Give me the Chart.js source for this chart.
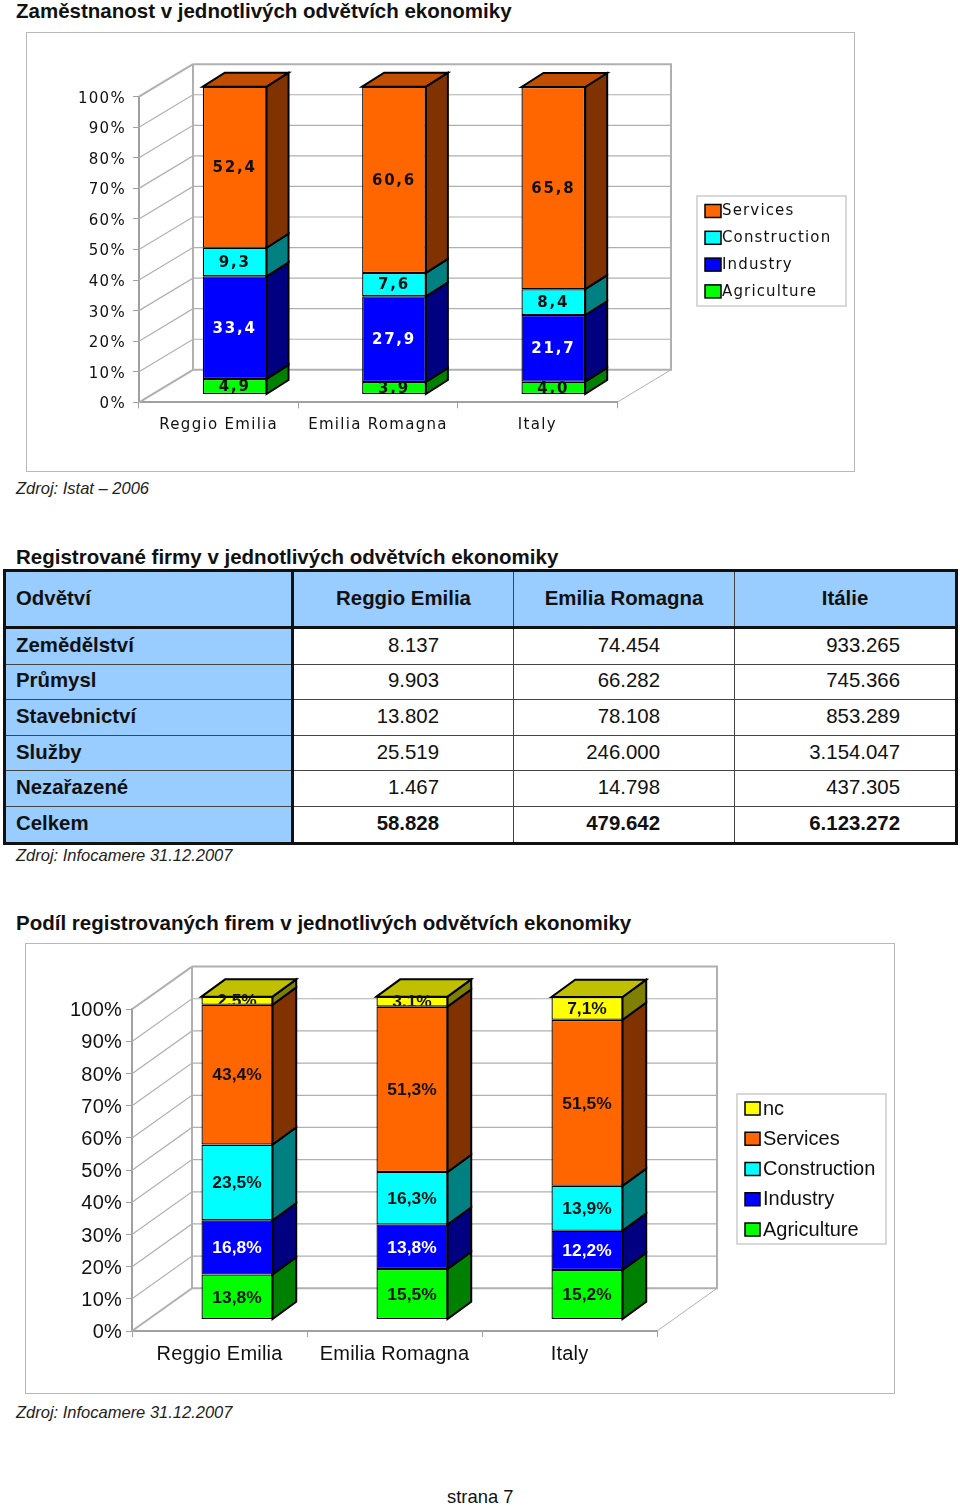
<!DOCTYPE html>
<html lang="cs">
<head>
<meta charset="utf-8">
<title>Zaměstnanost a firmy</title>
<script src="https://cdn.jsdelivr.net/npm/chart.js@4"></script>
<style>
  html, body { margin: 0; padding: 0; background: #fff; }
  body { position: relative; width: 960px; height: 1507px; overflow: hidden; font-family: "Liberation Sans", Arial, sans-serif; color: #111; }
  .title { position: absolute; left: 16px; font-size: 20.5px; font-weight: bold; line-height: 24px; white-space: nowrap; }
  .source { position: absolute; left: 16px; font-size: 16.5px; font-style: italic; line-height: 20px; white-space: nowrap; color: #222; }
  canvas { position: absolute; outline: 1.5px solid #b8b8b8; }
  #firms { position: absolute; left: 3px; top: 569px; width: 952px; border-collapse: collapse; table-layout: fixed; font-size: 20.4px; border: 3.5px solid #111; }
  #firms th, #firms td { padding: 0 0 2px; border: 1.5px solid #444; height: 32.6px; font-weight: normal; }
  #firms thead th { background: #99ccff; height: 52px; font-weight: bold; text-align: center; border-bottom: 3.5px solid #111; }
  #firms thead th:first-child, #firms tbody th { background: #99ccff; font-weight: bold; text-align: left; padding-left: 10px; border-right: 3.5px solid #111; }
  #firms td { text-align: right; }
  #firms td:nth-child(2) { padding-right: 74px; }
  #firms td:nth-child(3) { padding-right: 74px; }
  #firms td:nth-child(4) { padding-right: 55px; }
  #firms tr.total td { font-weight: bold; }
  #page { position: absolute; left: 447px; top: 1486px; font-size: 18.4px; line-height: 22px; }
</style>
</head>
<body>
<div class="title" style="top:-1px">Zaměstnanost v jednotlivých odvětvích ekonomiky</div>
<canvas id="chart-employment" width="827" height="438" style="left:27px;top:33px"></canvas>
<div class="source" style="top:478px">Zdroj: Istat – 2006</div>

<div class="title" style="top:545px">Registrované firmy v jednotlivých odvětvích ekonomiky</div>
<table id="firms">
  <colgroup><col style="width:288px"><col style="width:221px"><col style="width:221px"><col style="width:222px"></colgroup>
  <thead></thead>
  <tbody></tbody>
</table>
<div class="source" style="top:845px">Zdroj: Infocamere 31.12.2007</div>

<div class="title" style="top:911px">Podíl registrovaných firem v jednotlivých odvětvích ekonomiky</div>
<canvas id="chart-firms" width="868" height="449" style="left:26px;top:944px"></canvas>
<div class="source" style="top:1402px">Zdroj: Infocamere 31.12.2007</div>
<div id="page">strana 7</div>

<script>
// ── Chart 1 data: employment share (%) ───────────────────
const empCategories   = ['Reggio Emilia', 'Emilia Romagna', 'Italy'];
const empAgriculture  = [4.9, 3.9, 4.0];
const empIndustry     = [33.4, 27.9, 21.7];
const empConstruction = [9.3, 7.6, 8.4];
const empServices     = [52.4, 60.6, 65.8];

// ── Chart 2 data: registered firms share (%) ─────────────
const firmCategories   = ['Reggio Emilia', 'Emilia Romagna', 'Italy'];
const firmAgriculture  = [13.8, 15.5, 15.2];
const firmIndustry     = [16.8, 13.8, 12.2];
const firmConstruction = [23.5, 16.3, 13.9];
const firmServices     = [43.4, 51.3, 51.5];
const firmNc           = [2.5, 3.1, 7.1];

const yTicks = [0, 10, 20, 30, 40, 50, 60, 70, 80, 90, 100];

// ── Table data ───────────────────────────────────────────
const tableHead    = ['Odvětví', 'Reggio Emilia', 'Emilia Romagna', 'Itálie'];
const tableSectors = ['Zemědělství', 'Průmysl', 'Stavebnictví', 'Služby', 'Nezařazené', 'Celkem'];
const tableReggio  = ['8.137', '9.903', '13.802', '25.519', '1.467', '58.828'];
const tableEmilia  = ['74.454', '66.282', '78.108', '246.000', '14.798', '479.642'];
const tableItaly   = ['933.265', '745.366', '853.289', '3.154.047', '437.305', '6.123.272'];

// ── Series colours (front, side, top) ────────────────────
const COLORS = {
  Agriculture:  ['#00ff00', '#008000', '#00c000'],
  Industry:     ['#0000ff', '#000080', '#0000c0'],
  Construction: ['#00ffff', '#008080', '#00c0c0'],
  Services:     ['#ff6600', '#803300', '#c04d00'],
  nc:           ['#ffff00', '#808000', '#c0c000']
};
const GRID = '#b0b0b0';
const AXIS = '#a0a0a0';

function buildTable() {
  const head = document.querySelector('#firms thead');
  const body = document.querySelector('#firms tbody');
  head.innerHTML = '<tr>' + tableHead.map(t => '<th>' + t + '</th>').join('') + '</tr>';
  body.innerHTML = tableSectors.map((s, i) =>
    '<tr' + (i === tableSectors.length - 1 ? ' class="total"' : '') + '><th>' + s + '</th><td>' +
    tableReggio[i] + '</td><td>' + tableEmilia[i] + '</td><td>' + tableItaly[i] + '</td></tr>').join('');
}

function poly(ctx, pts, fill, stroke, width) {
  ctx.beginPath();
  pts.forEach((p, i) => i ? ctx.lineTo(p[0], p[1]) : ctx.moveTo(p[0], p[1]));
  if (fill) { ctx.closePath(); ctx.fillStyle = fill; ctx.fill(); }
  ctx.strokeStyle = stroke;
  ctx.lineWidth = width;
  ctx.stroke();
}

// Draws the 3D walls, the bar sides, the value labels and the legend
function box3dPlugin(cfg) {
  return {
    id: 'box3d',
    beforeDraw(chart) {
      chart.ctx.letterSpacing = cfg.spacing;
    },
    beforeDatasetsDraw(chart) {
      const ctx = chart.ctx;
      const { left, right, top, bottom } = chart.chartArea;
      const y = chart.scales.y;
      const d = cfg.depth;

      // gridlines on both walls
      yTicks.slice(1, -1).forEach(v => {
        const py = y.getPixelForValue(v);
        poly(ctx, [[left, py], [left + d.x, py + d.y], [right + d.x, py + d.y]], null, GRID, 1.2);
      });

      // back wall, left wall and floor
      poly(ctx, [[left + d.x, top + d.y], [right + d.x, top + d.y], [right + d.x, bottom + d.y], [left + d.x, bottom + d.y], [left + d.x, top + d.y]], null, GRID, 2);
      poly(ctx, [[left, top], [left + d.x, top + d.y]], null, GRID, 2);
      poly(ctx, [[left, bottom], [left + d.x, bottom + d.y]], null, GRID, 2);
      poly(ctx, [[right, bottom], [right + d.x, bottom + d.y]], null, GRID, 1);

      // bar sides and top, shifted off the front plane
      const s = cfg.shift;
      const b = cfg.barDepth;
      ctx.save();
      ctx.translate(s.x, s.y);
      chart.data.datasets.forEach((ds, di) => {
        const last = di === chart.data.datasets.length - 1;
        chart.getDatasetMeta(di).data.forEach(el => {
          const l = el.x - el.width / 2;
          const r = el.x + el.width / 2;
          poly(ctx, [[r, el.y], [r + b.x, el.y + b.y], [r + b.x, el.base + b.y], [r, el.base]], COLORS[ds.label][1], '#000', 2);
          if (last) poly(ctx, [[l, el.y], [l + b.x, el.y + b.y], [r + b.x, el.y + b.y], [r, el.y]], COLORS[ds.label][2], '#000', 2);
        });
      });
      // bars are painted by the library in this shifted position
    },
    afterDatasetsDraw(chart) {
      const ctx = chart.ctx;
      const area = chart.chartArea;
      ctx.restore();

      const s = cfg.shift;
      chart.data.datasets.forEach((ds, di) => {
        chart.getDatasetMeta(di).data.forEach((el, i) => {
          const cx = el.x + s.x;
          const cy = (el.y + el.base) / 2 + s.y + 1;
          ctx.save();
          // label never runs below its own segment
          ctx.beginPath();
          ctx.rect(area.left, 0, area.right - area.left, el.base + s.y - 1);
          ctx.clip();
          ctx.font = cfg.labelFont;
          ctx.letterSpacing = cfg.labelSpacing;
          ctx.textAlign = 'center';
          ctx.textBaseline = 'middle';
          ctx.fillStyle = ds.label === 'Industry' ? '#fff' : '#111';
          ctx.fillText(cfg.format(ds.data[i]), cx, cy);
          ctx.restore();
        });
      });

      // legend
      const lg = cfg.legend;
      const names = chart.data.datasets.map(ds => ds.label).reverse();
      ctx.save();
      ctx.strokeStyle = '#cccccc';
      ctx.lineWidth = 1.5;
      ctx.strokeRect(lg.left, lg.top, lg.width, lg.height);
      ctx.font = lg.font;
      ctx.letterSpacing = lg.spacing;
      ctx.textBaseline = 'middle';
      ctx.textAlign = 'left';
      names.forEach((name, i) => {
        const iy = lg.first + i * lg.step;
        ctx.fillStyle = COLORS[name][0];
        ctx.fillRect(lg.left + 8, iy - 6.5, lg.swatch, 13);
        ctx.strokeStyle = '#000';
        ctx.strokeRect(lg.left + 8, iy - 6.5, lg.swatch, 13);
        ctx.fillStyle = '#111';
        ctx.fillText(name, lg.left + lg.textX, iy + 0.5);
      });
      ctx.restore();
    }
  };
}

function buildChart(id, categories, series, cfg) {
  const canvas = document.getElementById(id);
  const p = cfg.plot;
  const datasets = series.map(([label, data]) => ({
    label,
    data,
    yAxisID: 'yBars',
    backgroundColor: COLORS[label][0],
    borderColor: '#000',
    borderWidth: 1.3,
    borderSkipped: false,
    clip: false
  }));

  new Chart(canvas, {
    type: 'bar',
    data: { labels: categories, datasets },
    options: {
      responsive: false,
      animation: false,
      events: [],
      barPercentage: cfg.barPercentage,
      categoryPercentage: 1,
      layout: { padding: { left: 0, top: p.top, right: canvas.width - p.right, bottom: 0 } },
      plugins: { legend: { display: false }, tooltip: { enabled: false }, title: { display: false } },
      scales: {
        x: {
          stacked: true,
          afterFit: s => { s.height = canvas.height - p.bottom; },
          border: { display: true, color: AXIS, width: 2 },
          grid: { drawOnChartArea: false, drawTicks: true, tickLength: 6, color: AXIS },
          ticks: { color: '#111', font: cfg.tickFont, padding: cfg.xPad, maxRotation: 0, autoSkip: false }
        },
        y: {
          min: 0,
          max: 100,
          afterFit: s => { s.width = p.left; },
          afterBuildTicks: s => { s.ticks = yTicks.map(value => ({ value })); },
          border: { display: true, color: AXIS, width: 2 },
          grid: { drawOnChartArea: false, drawTicks: true, tickLength: 6, color: AXIS },
          ticks: { color: '#111', font: cfg.tickFont, padding: cfg.yPad, labelOffset: cfg.yLabelOffset, callback: v => v + '%' }
        },
        // bars stand a little taller than the axis plane (perspective of the original)
        yBars: { display: false, stacked: true, min: 0, max: cfg.barMax }
      }
    },
    plugins: [box3dPlugin(cfg)]
  });
}

buildTable();

// ── Chart 1: employment ──────────────────────────────────
buildChart('chart-employment', empCategories, [
  ['Agriculture', empAgriculture],
  ['Industry', empIndustry],
  ['Construction', empConstruction],
  ['Services', empServices]
], {
  plot: { left: 112, right: 590, top: 63.7, bottom: 369.3 },
  depth: { x: 54, y: -32.5 },
  shift: { x: 16, y: -8.3 },
  barDepth: { x: 22, y: -14 },
  barPercentage: 0.4,
  barMax: 99.45,
  tickFont: { family: '"DejaVu Sans"', size: 15 },
  spacing: '1.3px',
  xPad: 8,
  yPad: 7,
  yLabelOffset: 2,
  labelFont: 'bold 15px "DejaVu Sans"',
  labelSpacing: '1.8px',
  format: v => v.toFixed(1).replace('.', ','),
  legend: { left: 670, top: 163, width: 149, height: 110, swatch: 16, textX: 25, first: 178, step: 26.8, font: '15px "DejaVu Sans"', spacing: '1.15px' }
});

// ── Chart 2: registered firms ────────────────────────────
buildChart('chart-firms', firmCategories, [
  ['Agriculture', firmAgriculture],
  ['Industry', firmIndustry],
  ['Construction', firmConstruction],
  ['Services', firmServices],
  ['nc', firmNc]
], {
  plot: { left: 106, right: 631, top: 65.3, bottom: 387 },
  depth: { x: 60, y: -42.7 },
  shift: { x: 17.5, y: -12 },
  barDepth: { x: 23.7, y: -17.3 },
  barPercentage: 0.406,
  barMax: 99.8,
  tickFont: { family: '"Liberation Sans"', size: 20 },
  spacing: '0.2px',
  xPad: 5,
  yPad: 4,
  yLabelOffset: 1.5,
  labelFont: 'bold 17.4px "Liberation Sans"',
  labelSpacing: '0px',
  format: v => v.toFixed(1).replace('.', ',') + '%',
  legend: { left: 711, top: 150, width: 149, height: 150, swatch: 15, textX: 26, first: 164.5, step: 30.25, font: '20px "Liberation Sans"', spacing: '0px' }
});
</script>
</body>
</html>
